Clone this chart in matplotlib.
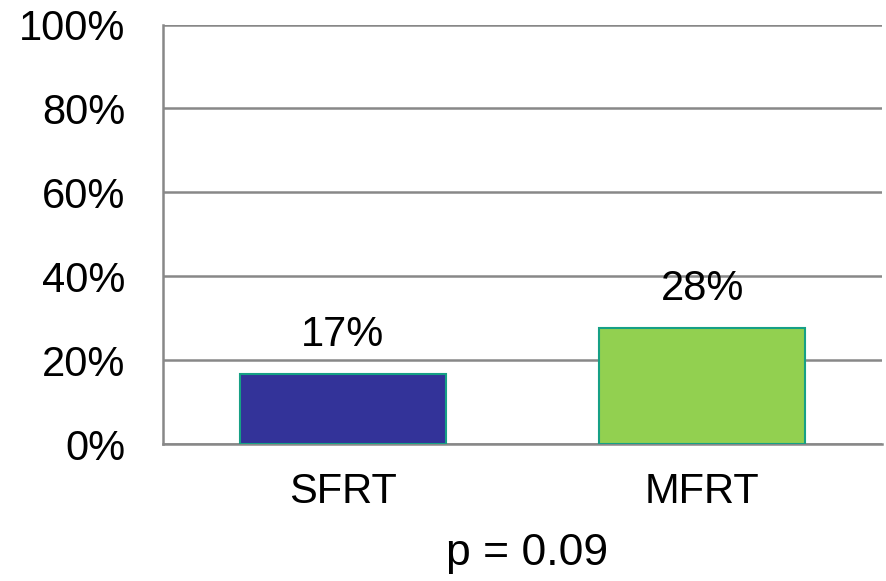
import matplotlib.pyplot as plt
import numpy as np

plt.rcParams["font.family"] = ["Liberation Sans", "DejaVu Sans"]

groups = ["SFRT", "MFRT"]
rates = [0.167, 0.277]
bar_labels = ["17%", "28%"]
p_text = "p = 0.09"
yticks = [0, 0.2, 0.4, 0.6, 0.8, 1.0]

fig = plt.figure(figsize=(8.87, 5.81), dpi=100)
ax = fig.add_axes([0.1838, 0.2358, 0.9944 - 0.1838, 0.9578 - 0.2358])

x = np.arange(len(groups))
bars = ax.bar(x, rates, width=0.573, color=["#333399", "#92D050"],
              edgecolor="#16A085", linewidth=1.5, zorder=3)

for b, lab in zip(bars, bar_labels):
    ax.annotate(lab, (b.get_x() + b.get_width() / 2, b.get_height()),
                xytext=(0, 20), textcoords="offset points",
                ha="center", va="baseline", fontsize=30)

ax.set_xlim(-0.5, 1.5)
ax.set_ylim(0, 1.0)
ax.set_yticks(yticks)
ax.set_yticklabels([f"{int(round(t * 100))}%" for t in yticks])
ax.set_xticks(x)
ax.set_xticklabels(groups)
ax.tick_params(axis="both", length=0, labelsize=30)
ax.tick_params(axis="y", pad=27)
ax.tick_params(axis="x", pad=20)

ax.grid(axis="y", color="#888888", linewidth=1.8, zorder=0)
ax.set_axisbelow(True)
for s in ["top", "right"]:
    ax.spines[s].set_visible(False)
for s in ["left", "bottom"]:
    ax.spines[s].set_color("#888888")
    ax.spines[s].set_linewidth(1.8)

fig.text(0.5 * (0.1838 + 0.9944) + 0.005, 1 - 554 / 581, p_text,
         ha="center", va="center", fontsize=32)

fig.savefig("out.png", dpi=100)
